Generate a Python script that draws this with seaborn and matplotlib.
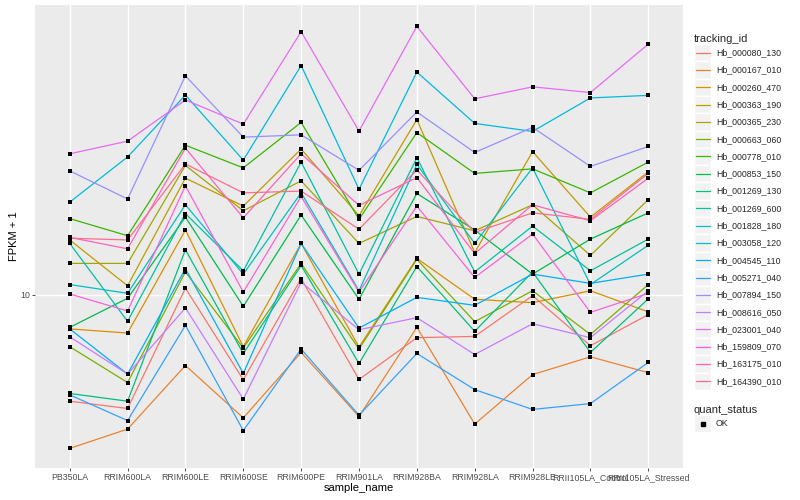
import matplotlib
matplotlib.use("Agg")
import matplotlib.pyplot as plt
import seaborn as sns
import pandas as pd
from matplotlib.lines import Line2D
from matplotlib.patches import Rectangle
from matplotlib.legend_handler import HandlerBase
from matplotlib.ticker import FixedLocator, FixedFormatter, NullLocator

# ---------------- data ----------------
samples = ["PB350LA", "RRIM600LA", "RRIM600LE", "RRIM600SE", "RRIM600PE",
           "RRIM901LA", "RRIM928BA", "RRIM928LA", "RRIM928LE",
           "RRII105LA_Control", "RRII105LA_Stressed"]

tracking_ids = ["Hb_000080_130", "Hb_000167_010", "Hb_000260_470", "Hb_000363_190",
                "Hb_000365_230", "Hb_000663_060", "Hb_000778_010", "Hb_000853_150",
                "Hb_001269_130", "Hb_001269_600", "Hb_001828_180", "Hb_003058_120",
                "Hb_004545_110", "Hb_005271_040", "Hb_007894_150", "Hb_008616_050",
                "Hb_023001_040", "Hb_159809_070", "Hb_163175_010", "Hb_164390_010"]

hb_000080_130 = [4.42, 4.18, 10.5, 5.21, 11.3, 5.22, 7.19, 7.26, 9.92, 6.76, 8.58]
hb_000167_010 = [3.08, 3.57, 5.81, 3.89, 6.42, 3.93, 7.78, 3.71, 5.42, 6.21, 5.50]
hb_000260_470 = [7.69, 7.45, 16.4, 6.71, 14.8, 6.69, 13.2, 9.65, 9.40, 10.3, 8.76]
hb_000363_190 = [15.2, 10.7, 24.4, 19.7, 30.5, 18.3, 38.2, 13.8, 29.9, 18.1, 25.6]
hb_000365_230 = [12.7, 12.7, 26.9, 19.0, 23.9, 14.8, 18.2, 16.3, 19.9, 13.5, 20.7]
hb_000663_060 = [6.71, 5.10, 11.9, 6.64, 12.7, 6.59, 13.1, 8.13, 10.3, 7.37, 10.8]
hb_000778_010 = [17.9, 15.7, 31.4, 26.4, 37.4, 17.8, 34.6, 25.3, 26.2, 21.8, 27.6]
hb_000853_150 = [7.78, 9.72, 18.1, 9.14, 18.4, 9.65, 21.7, 16.4, 11.7, 15.3, 18.7]
hb_001269_130 = [4.69, 4.42, 14.1, 6.37, 12.5, 5.90, 12.4, 7.55, 11.9, 6.42, 9.68]
hb_001269_600 = [14.8, 8.15, 18.6, 12.0, 27.6, 11.7, 28.5, 11.9, 16.9, 12.0, 15.3]
hb_001828_180 = [10.8, 10.1, 19.9, 11.7, 21.8, 10.3, 27.1, 14.8, 26.4, 10.8, 14.6]
hb_003058_120 = [20.3, 28.7, 46.1, 28.0, 57.8, 22.4, 55.0, 37.1, 34.9, 45.1, 46.0]
hb_004545_110 = [7.69, 5.44, 12.2, 5.47, 14.8, 7.74, 9.79, 9.21, 11.7, 10.9, 11.7]
hb_005271_040 = [4.64, 3.81, 7.90, 3.53, 6.59, 3.97, 6.37, 4.83, 4.15, 4.34, 5.95]
hb_007894_150 = [25.8, 20.8, 53.4, 33.4, 34.0, 25.9, 40.5, 29.7, 36.0, 26.7, 31.1]
hb_008616_050 = [7.24, 5.44, 9.03, 4.49, 11.0, 7.64, 8.38, 6.32, 8.00, 7.19, 10.3]
hb_023001_040 = [29.4, 32.4, 44.4, 36.9, 74.9, 35.0, 78.0, 44.8, 49.1, 47.0, 68.1]
hb_159809_070 = [10.05, 8.82, 23.0, 10.2, 21.2, 10.2, 19.7, 11.4, 15.9, 8.73, 10.1]
hb_163175_010 = [15.5, 14.2, 30.7, 18.0, 29.4, 19.8, 24.5, 13.7, 19.9, 17.6, 24.4]
hb_164390_010 = [15.4, 15.2, 27.2, 21.8, 22.1, 16.5, 26.0, 16.1, 18.7, 17.8, 25.3]

series_values = [hb_000080_130, hb_000167_010, hb_000260_470, hb_000363_190,
                 hb_000365_230, hb_000663_060, hb_000778_010, hb_000853_150,
                 hb_001269_130, hb_001269_600, hb_001828_180, hb_003058_120,
                 hb_004545_110, hb_005271_040, hb_007894_150, hb_008616_050,
                 hb_023001_040, hb_159809_070, hb_163175_010, hb_164390_010]

quant_status = "OK"

colors = ["#F8766D", "#EA8331", "#D89000", "#C09B00", "#A3A500", "#7CAE00",
          "#39B600", "#00BB4E", "#00BF7D", "#00C1A3", "#00BFC4", "#00BAE0",
          "#00B0F6", "#35A2FF", "#9590FF", "#C77CFF", "#E76BF3", "#FA62DB",
          "#FF62BC", "#FF6C91"]

rows = []
for tid, vals in zip(tracking_ids, series_values):
    for s, v in zip(samples, vals):
        rows.append({"tracking_id": tid, "sample_name": s, "FPKM": v,
                     "quant_status": quant_status})
df = pd.DataFrame(rows)

# ---------------- style ----------------
sns.set_theme(style="darkgrid")
plt.rcParams["font.family"] = ["Liberation Sans", "DejaVu Sans"]
plt.rcParams["axes.facecolor"] = "#EBEBEB"
plt.rcParams["figure.facecolor"] = "white"

fig = plt.figure(figsize=(8, 5), dpi=100)
ax = fig.add_axes([35 / 800, 32 / 500, 648 / 800, 463 / 500])

palette = dict(zip(tracking_ids, colors))
sns.lineplot(data=df, x="sample_name", y="FPKM", hue="tracking_id",
             hue_order=tracking_ids, palette=palette, sort=False,
             estimator=None, legend=False, linewidth=0.9, ax=ax)
sns.scatterplot(data=df, x="sample_name", y="FPKM", color="black", marker="s",
                s=6, linewidth=0, legend=False, ax=ax, zorder=5)

ax.set_yscale("log")
ax.set_ylim(2.65, 91.9)
ax.set_xlim(-0.6, len(samples) - 0.4)
ax.yaxis.set_major_locator(FixedLocator([10]))
ax.yaxis.set_major_formatter(FixedFormatter(["10"]))
ax.yaxis.set_minor_locator(NullLocator())

ax.grid(True, which="major", color="white", linewidth=1.0)
ax.set_axisbelow(True)
for sp in ax.spines.values():
    sp.set_visible(False)
ax.tick_params(axis="both", length=2.2, width=0.6, color="#333333",
               labelcolor="#4D4D4D", labelsize=6.3, pad=1.5)
ax.tick_params(axis="both", which="both", bottom=True, left=True)
ax.set_xlabel("sample_name", fontsize=8, color="black", labelpad=0.5)
ax.set_ylabel("FPKM + 1", fontsize=8, color="black", labelpad=0.5)


# ---------------- legends ----------------
class KeyHandler(HandlerBase):
    def create_artists(self, legend, orig_handle, xdescent, ydescent,
                       width, height, fontsize, trans):
        bg = Rectangle((-xdescent, -ydescent), width, height,
                       facecolor="#F2F2F2", edgecolor="white", linewidth=1.0,
                       transform=trans)
        yc = -ydescent + height / 2
        if orig_handle.get_marker() not in (None, "None", ""):
            art = Line2D([-xdescent + width / 2], [yc], marker="s",
                         markersize=2.3, color="black", linestyle="None",
                         transform=trans)
        else:
            art = Line2D([-xdescent + 0.1 * width, -xdescent + 0.9 * width],
                         [yc, yc], color=orig_handle.get_color(),
                         linewidth=0.9, transform=trans)
        return [bg, art]


fs_entry = 6.3
key_px = 17.3
fs_px = fs_entry * 100 / 72
hh = (key_px / fs_px - 0.245) / 0.65
hl = key_px / fs_px

line_handles = [Line2D([], [], color=c) for c in colors]
leg1 = fig.legend(line_handles, tracking_ids, loc="upper left",
                  bbox_to_anchor=(694 / 800, 1 - 34 / 500),
                  title="tracking_id", title_fontsize=8, fontsize=fs_entry,
                  frameon=False, borderpad=0, borderaxespad=0,
                  labelspacing=0, handlelength=hl, handleheight=hh,
                  handletextpad=0.55, alignment="left",
                  handler_map={Line2D: KeyHandler()})

ok_handle = [Line2D([], [], marker="s", color="black", linestyle="None")]
leg2 = fig.legend(ok_handle, [quant_status], loc="upper left",
                  bbox_to_anchor=(694 / 800, 1 - 405 / 500),
                  title="quant_status", title_fontsize=8, fontsize=fs_entry,
                  frameon=False, borderpad=0, borderaxespad=0,
                  labelspacing=0, handlelength=hl, handleheight=hh,
                  handletextpad=0.55, alignment="left",
                  handler_map={Line2D: KeyHandler()})

fig.savefig("out.png", dpi=100)
